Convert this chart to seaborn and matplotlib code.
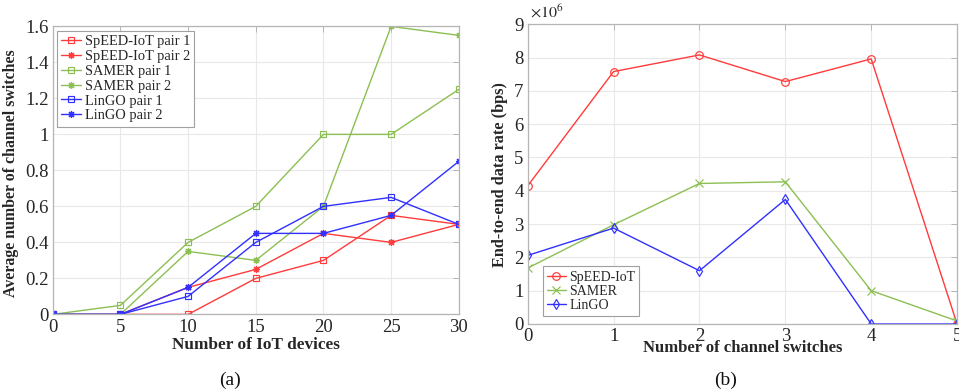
import numpy as np
import pandas as pd
import matplotlib
matplotlib.use("Agg")
import matplotlib.pyplot as plt
from matplotlib.ticker import FuncFormatter
import seaborn as sns

# (a) average channel switches vs. number of IoT devices
devices = [0, 5, 10, 15, 20, 25, 30]
speed_pair1 = [0, 0, 0, 0.2, 0.3, 0.55, 0.5]
speed_pair2 = [0, 0, 0.15, 0.25, 0.45, 0.4, 0.5]
samer_pair1 = [0, 0.05, 0.4, 0.6, 1.0, 1.0, 1.25]
samer_pair2 = [0, 0, 0.35, 0.3, 0.6, 1.6, 1.55]
lingo_pair1 = [0, 0, 0.1, 0.4, 0.6, 0.65, 0.5]
lingo_pair2 = [0, 0, 0.15, 0.45, 0.45, 0.55, 0.85]

# (b) end-to-end data rate (bps) vs. number of channel switches
switches = [0, 1, 2, 3, 4, 5]
speed_rate = [4.15e6, 7.58e6, 8.08e6, 7.28e6, 7.96e6, 0.0]
samer_rate = [1.68e6, 2.98e6, 4.22e6, 4.27e6, 1.0e6, 0.09e6]
lingo_rate = [2.06e6, 2.88e6, 1.6e6, 3.74e6, 0.0, 0.0]

RED = "#ff3b3b"
GREEN = "#8cbf52"
BLUE = "#3030ff"
ASTERISK = (8, 2, 0)
TEXT = "#262626"

sns.set_theme(style="white")
plt.rcParams["font.family"] = ["Liberation Serif", "DejaVu Serif"]
plt.rcParams["mathtext.fontset"] = "stix"

fig = plt.figure(figsize=(9.59, 3.92), dpi=100)
ax1 = fig.add_axes([0.055, 0.198, 0.4234, 0.7347])
ax2 = fig.add_axes([0.5503, 0.1735, 0.4477, 0.7645])

left_series = [
    ("SpEED-IoT pair 1", speed_pair1, RED, "s"),
    ("SpEED-IoT pair 2", speed_pair2, RED, ASTERISK),
    ("SAMER pair 1", samer_pair1, GREEN, "s"),
    ("SAMER pair 2", samer_pair2, GREEN, ASTERISK),
    ("LinGO pair 1", lingo_pair1, BLUE, "s"),
    ("LinGO pair 2", lingo_pair2, BLUE, ASTERISK),
]
for name, vals, col, mk in left_series:
    df = pd.DataFrame({"devices": devices, "switches": vals})
    sns.lineplot(data=df, x="devices", y="switches", ax=ax1, color=col,
                 marker=mk, markersize=5, markerfacecolor="none",
                 markeredgecolor=col, markeredgewidth=0.85, linewidth=1.0,
                 label=name)

right_series = [
    ("SpEED-IoT", speed_rate, RED, "o"),
    ("SAMER", samer_rate, GREEN, "x"),
    ("LinGO", lingo_rate, BLUE, "d"),
]
for name, vals, col, mk in right_series:
    df = pd.DataFrame({"n": switches, "rate": vals})
    sns.lineplot(data=df, x="n", y="rate", ax=ax2, color=col,
                 marker=mk, markersize=5.5, markerfacecolor="none",
                 markeredgecolor=col, markeredgewidth=0.85, linewidth=1.0,
                 label=name)

SPINE = "#b5b5b5"
for ax in (ax1, ax2):
    ax.grid(True, color="#e8e8e8", linewidth=0.8)
    ax.set_axisbelow(True)
    for s in ax.spines.values():
        s.set_color(SPINE)
        s.set_linewidth(0.9)
    ax.tick_params(direction="in", length=4, width=0.7, color=SPINE,
                   labelsize=13.5, labelcolor=TEXT, top=True, right=True,
                   pad=3)

def matlab_fmt(v, pos):
    return "%g" % round(v, 4)

ax1.set_xlim(0, 30)
ax1.set_ylim(0, 1.6)
ax1.set_xticks(devices)
ax1.set_yticks(np.arange(0, 1.61, 0.2))
ax1.yaxis.set_major_formatter(FuncFormatter(matlab_fmt))
ax1.set_xlabel("Number of IoT devices", fontsize=12.4, fontweight="bold",
               color=TEXT)
ax1.set_ylabel("Average number of channel switches", fontsize=11.4,
               fontweight="bold", color=TEXT)
ax1.xaxis.set_label_coords(0.5, -0.078)
ax1.yaxis.set_label_coords(-0.082, 0.49)

ax2.set_xlim(0, 5)
ax2.set_ylim(0, 9e6)
ax2.set_xticks(switches)
ax2.set_yticks(np.arange(0, 9.01e6, 1e6))
ax2.yaxis.set_major_formatter(FuncFormatter(lambda v, p: "%g" % round(v / 1e6, 4)))
ax2.set_xlabel("Number of channel switches", fontsize=12.0, fontweight="bold",
               color=TEXT)
ax2.set_ylabel("End-to-end data rate (bps)", fontsize=11.7, fontweight="bold",
               color=TEXT)
ax2.xaxis.set_label_coords(0.5, -0.055)
ax2.yaxis.set_label_coords(-0.045, 0.5)
ax2.text(0.005, 1.008, r"$\times10^{6}$", transform=ax2.transAxes,
         fontsize=11.5, color=TEXT, ha="left", va="bottom")

leg1 = ax1.legend(loc="upper left", fontsize=10.4, frameon=True,
                  fancybox=False, framealpha=1, edgecolor="#a0a0a0",
                  handlelength=1.35, handletextpad=0.25, labelspacing=0.12,
                  borderpad=0.3, borderaxespad=0.3)
leg1.get_frame().set_linewidth(0.8)
leg2 = ax2.legend(loc="lower left", fontsize=10.0, frameon=True,
                  fancybox=False, framealpha=1, edgecolor="#a0a0a0",
                  handlelength=1.35, handletextpad=0.25, labelspacing=0.1,
                  borderpad=0.3, borderaxespad=0.0, bbox_to_anchor=(0.035, 0.025))
leg2.get_frame().set_linewidth(0.8)

fig.text(230 / 959, 1 - 380 / 392, "(a)", fontsize=14, ha="center",
         va="center", color="#111111")
fig.text(726 / 959, 1 - 380 / 392, "(b)", fontsize=14, ha="center",
         va="center", color="#111111")

fig.savefig("out.png", dpi=100)
